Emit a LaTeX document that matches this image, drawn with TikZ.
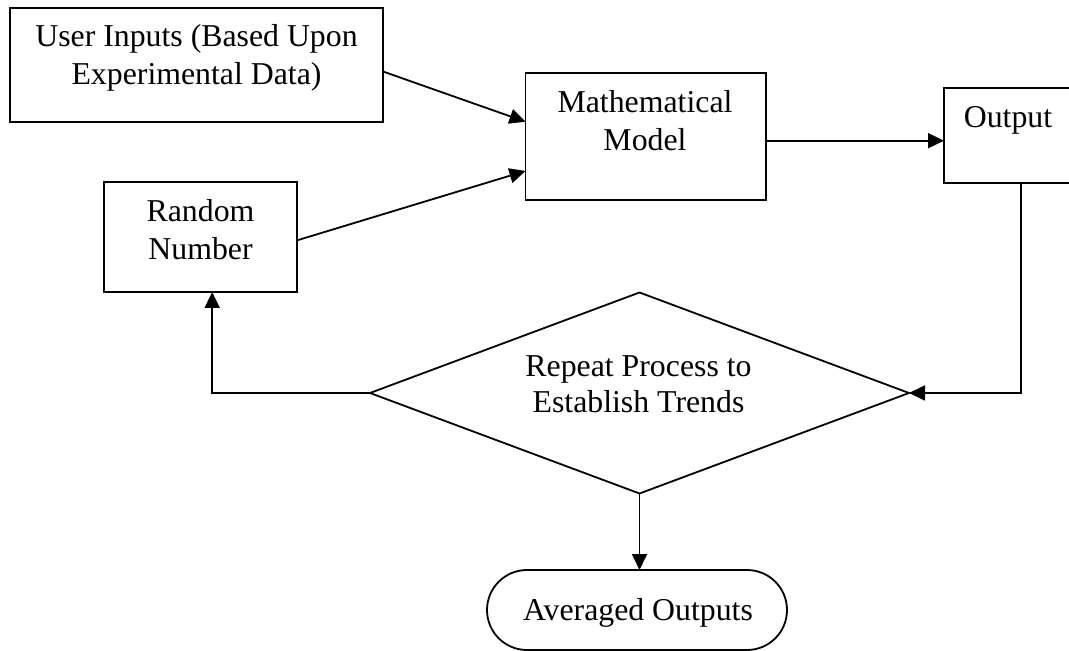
\documentclass[tikz,border=0pt]{standalone}
\usepackage{fontspec}
\setmainfont{Liberation Serif}
\usetikzlibrary{arrows.meta,shapes.geometric}
\begin{document}
\begin{tikzpicture}[x=0.5pt,y=-0.5pt,
  line width=0.9pt,
  box/.style={draw,rectangle,inner sep=0pt,outer sep=0pt},
  txt/.style={anchor=base,inner sep=0pt,font=\fontsize{15.9}{19}\selectfont},
  arr/.style={-{Triangle[length=8pt,width=7.5pt]}}]
\useasboundingbox (0,0) rectangle (1069,651);
% boxes
\node[box,minimum width=186.5pt,minimum height=57pt] (ui) at (196.5,65) {};
\node[box,minimum width=96.5pt,minimum height=55pt] (rn) at (200.5,237) {};
\node[box,minimum width=120.25pt,minimum height=63.5pt] (mm) at (645.75,136.5) {};
\node[box,minimum width=64pt,minimum height=47.5pt] (out) at (1008,135.5) {};
\node[draw,diamond,inner sep=0pt,outer sep=0pt,aspect=2.7,minimum width=269.5pt,minimum height=100.5pt] (dia) at (639.5,393) {};
\node[draw,rectangle,rounded corners=20pt,inner sep=0pt,outer sep=0pt,minimum width=150pt,minimum height=40pt] (avg) at (637,610) {};
% texts
\node[txt] (ui1) at (196.5,47) {User Inputs (Based Upon};
\node[txt] (ui2) at (196.5,85) {Experimental Data)};
\node[txt] (rn1) at (200.5,222) {Random};
\node[txt] (rn2) at (200.5,260) {Number};
\node[txt] (mm1) at (645,113) {Mathematical};
\node[txt] (mm2) at (645,151) {Model};
\node[txt] (out1) at (1008,128) {Output};
\node[txt] (dia1) at (638.5,377) {Repeat Process to};
\node[txt] (dia2) at (638.5,413) {Establish Trends};
\node[txt] (avg1) at (638,620) {Averaged Outputs};
% connectors
\draw[arr] (ui.-2.46) -- (mm.173.13);
\draw[arr] (rn.-2.97) -- (mm.196.45);
\draw[arr] (mm.-2.62) -- (mm.-2.62 -| out.west);
\draw[arr] (out.-75.82) |- (dia.east);
\draw[arr] (dia.west) -| (rn.-78.19);
\draw[arr] (dia.south) -- (dia.south |- avg.north);
\end{tikzpicture}
\end{document}
